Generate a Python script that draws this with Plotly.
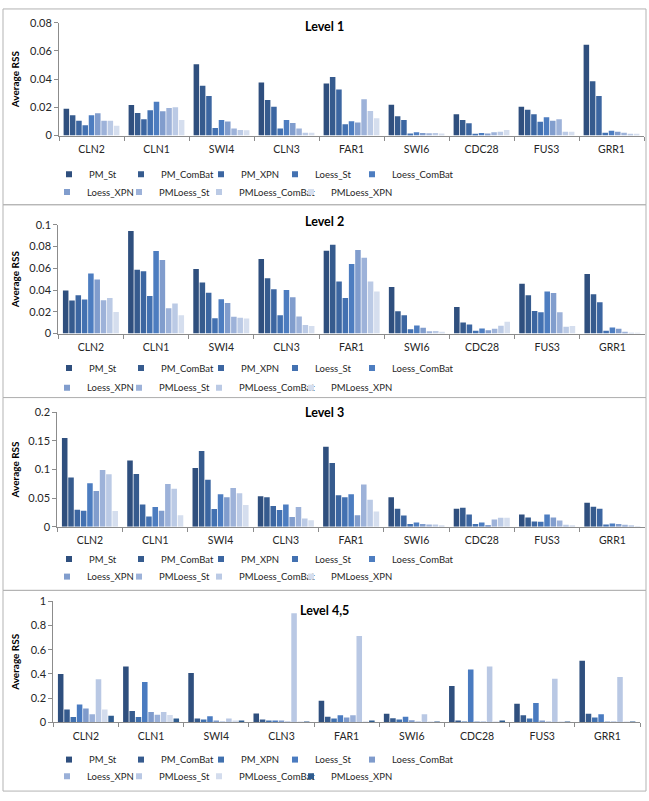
import plotly.graph_objects as go

# ---------------- data ----------------
categories = ["CLN2", "CLN1", "SWI4", "CLN3", "FAR1", "SWI6", "CDC28", "FUS3", "GRR1"]
series = ["PM_St", "PM_ComBat", "PM_XPN", "Loess_St", "Loess_ComBat",
          "Loess_XPN", "PMLoess_St", "PMLoess_ComBat", "PMLoess_XPN"]
level_titles = ["Level 1", "Level 2", "Level 3", "Level 4,5"]

# rows = categories (in order above), columns = series (in order above)
level1 = [
    [0.0190, 0.0144, 0.0105, 0.0074, 0.0144, 0.0158, 0.0105, 0.0105, 0.0070],
    [0.0216, 0.0160, 0.0116, 0.0180, 0.0240, 0.0172, 0.0195, 0.0200, 0.0110],
    [0.0505, 0.0353, 0.0280, 0.0053, 0.0110, 0.0100, 0.0050, 0.0040, 0.0037],
    [0.0377, 0.0253, 0.0205, 0.0050, 0.0110, 0.0090, 0.0050, 0.0020, 0.0020],
    [0.0370, 0.0416, 0.0326, 0.0080, 0.0102, 0.0093, 0.0258, 0.0174, 0.0123],
    [0.0219, 0.0137, 0.0110, 0.0014, 0.0023, 0.0019, 0.0016, 0.0019, 0.0014],
    [0.0151, 0.0110, 0.0088, 0.0010, 0.0019, 0.0014, 0.0023, 0.0028, 0.0040],
    [0.0205, 0.0184, 0.0151, 0.0098, 0.0130, 0.0105, 0.0116, 0.0028, 0.0028],
    [0.0644, 0.0386, 0.0280, 0.0020, 0.0035, 0.0028, 0.0020, 0.0009, 0.0007],
]
level2 = [
    [0.0395, 0.0304, 0.0352, 0.0313, 0.0551, 0.0497, 0.0307, 0.0328, 0.0199],
    [0.0943, 0.0587, 0.0572, 0.0346, 0.0759, 0.0675, 0.0232, 0.0277, 0.0169],
    [0.0593, 0.0470, 0.0376, 0.0142, 0.0316, 0.0280, 0.0154, 0.0145, 0.0139],
    [0.0684, 0.0509, 0.0407, 0.0169, 0.0400, 0.0334, 0.0157, 0.0078, 0.0070],
    [0.0762, 0.0816, 0.0479, 0.0328, 0.0639, 0.0768, 0.0696, 0.0479, 0.0386],
    [0.0428, 0.0205, 0.0169, 0.0039, 0.0075, 0.0054, 0.0021, 0.0024, 0.0018],
    [0.0244, 0.0102, 0.0084, 0.0027, 0.0048, 0.0030, 0.0045, 0.0072, 0.0108],
    [0.0458, 0.0352, 0.0208, 0.0196, 0.0386, 0.0373, 0.0196, 0.0063, 0.0070],
    [0.0548, 0.0361, 0.0289, 0.0027, 0.0057, 0.0045, 0.0018, 0.0006, 0.0003],
]
level3 = [
    [0.1553, 0.0860, 0.0298, 0.0280, 0.0762, 0.0625, 0.0991, 0.0917, 0.0275],
    [0.1158, 0.0923, 0.0390, 0.0178, 0.0344, 0.0280, 0.0745, 0.0665, 0.0200],
    [0.1026, 0.1324, 0.0820, 0.0310, 0.0567, 0.0516, 0.0676, 0.0585, 0.0378],
    [0.0533, 0.0516, 0.0361, 0.0292, 0.0390, 0.0172, 0.0344, 0.0143, 0.0115],
    [0.1400, 0.1112, 0.0550, 0.0516, 0.0567, 0.0200, 0.0739, 0.0470, 0.0264],
    [0.0516, 0.0315, 0.0195, 0.0046, 0.0074, 0.0046, 0.0040, 0.0040, 0.0023],
    [0.0315, 0.0332, 0.0212, 0.0046, 0.0074, 0.0029, 0.0126, 0.0155, 0.0155],
    [0.0212, 0.0160, 0.0092, 0.0086, 0.0212, 0.0160, 0.0109, 0.0034, 0.0023],
    [0.0418, 0.0350, 0.0315, 0.0040, 0.0057, 0.0046, 0.0034, 0.0011, 0.0006],
]
level45 = [
    [0.400, 0.106, 0.043, 0.147, 0.114, 0.065, 0.355, 0.106, 0.054],
    [0.462, 0.092, 0.043, 0.334, 0.084, 0.062, 0.084, 0.060, 0.030],
    [0.408, 0.030, 0.022, 0.049, 0.011, 0.005, 0.030, 0.008, 0.008],
    [0.073, 0.022, 0.014, 0.014, 0.008, 0.003, 0.902, 0.003, 0.003],
    [0.177, 0.046, 0.030, 0.057, 0.038, 0.057, 0.715, 0.005, 0.008],
    [0.071, 0.033, 0.022, 0.046, 0.016, 0.005, 0.065, 0.005, 0.003],
    [0.300, 0.014, 0.005, 0.437, 0.003, 0.003, 0.462, 0.003, 0.008],
    [0.152, 0.057, 0.030, 0.160, 0.008, 0.003, 0.359, 0.003, 0.003],
    [0.510, 0.071, 0.038, 0.065, 0.005, 0.003, 0.375, 0.003, 0.003],
]
levels = [level1, level2, level3, level45]
y_max = [0.08, 0.1, 0.2, 1.0]
y_dtick = [0.02, 0.02, 0.05, 0.2]

# ---------------- styles ----------------
colors_main = ["#2F4F7E", "#365B8E", "#3C66A1", "#4371B1", "#4D7DC0",
               "#819DCD", "#9DB2D9", "#BBCAE5", "#D5DEEE"]
colors_l45 = ["#2F4F7E", "#365B8E", "#4070AE", "#4A7BC0", "#7F9BCC",
              "#9AB0D8", "#B9C8E4", "#D3DCED", "#2F5C8F"]
palettes = [colors_main, colors_main, colors_main, colors_l45]

W, H = 649, 801
FONT = "Lato, 'Open Sans', sans-serif"
TXT = "#262626"
AXC = "#8C8C8C"

# pixel geometry per panel
geo = [
    dict(top=16.0, bottom=130.7, left=59.0, right=644.0, leg=(170, 188), title=20, box=(2, 201)),
    dict(top=221.3, bottom=332.0, left=58.3, right=645.0, leg=(367, 387), title=218, box=(201, 397)),
    dict(top=412.0, bottom=528.3, left=57.3, right=645.0, leg=(561, 579), title=412, box=(397, 593)),
    dict(top=604.3, bottom=727.0, left=53.3, right=640.0, leg=(765, 782), title=613, box=(593, 797)),
]
# legend entry columns (px) for each of the 9 entries: 5 on row 1, 4 on row 2
leg_cols = [76, 148, 228, 302, 379, 74, 146, 226, 318]

def py(p):
    return 1 - p / H

fig = go.Figure()
layout = dict(
    width=W, height=H, margin=dict(l=0, r=0, t=0, b=0),
    paper_bgcolor="white", plot_bgcolor="white",
    barmode="group", bargap=0.13, bargroupgap=0.12,
    font=dict(family=FONT, color=TXT),
    annotations=[], shapes=[],
)

leg_n = 0
for p, (rows, g) in enumerate(zip(levels, geo)):
    ax = "" if p == 0 else str(p + 1)
    xname, yname = "x" + ax, "y" + ax
    pal = palettes[p]
    for j, name in enumerate(series):
        vals = [r[j] for r in rows]
        fig.add_trace(go.Bar(
            x=categories, y=vals, name=name, marker=dict(color=pal[j], line=dict(width=0)),
            xaxis=xname, yaxis=yname, showlegend=False, hoverinfo="x+y+name",
        ))
    for j, name in enumerate(series):
        lid = "legend" if leg_n == 0 else f"legend{leg_n + 1}"
        leg_n += 1
        fig.add_trace(go.Scatter(
            x=[None], y=[None], mode="markers", name=name,
            marker=dict(symbol="square", size=6, color=pal[j]),
            xaxis=xname, yaxis=yname, showlegend=True, legend=lid,
        ))
        row = 0 if j < 5 else 1
        layout[lid] = dict(
            orientation="h", x=(leg_cols[j] - 27) / W, xanchor="left",
            y=py(g["leg"][row]), yanchor="middle", itemsizing="trace",
            font=dict(family=FONT, size=9.5, color=TXT), bgcolor="rgba(0,0,0,0)",
            itemclick=False, itemdoubleclick=False,
        )

    layout["xaxis" + ax] = dict(
        domain=[g["left"] / W, g["right"] / W], anchor=yname,
        showline=True, linecolor=AXC, linewidth=1,
        ticks="outside", tickson="boundaries", ticklen=4, tickcolor=AXC,
        tickfont=dict(family=FONT, size=10.5, color=TXT), ticklabelstandoff=4,
        showgrid=False, zeroline=False, fixedrange=True,
    )
    layout["yaxis" + ax] = dict(
        domain=[py(g["bottom"]), py(g["top"])], anchor=xname,
        range=[0, y_max[p]], dtick=y_dtick[p], tick0=0,
        showline=True, linecolor=AXC, linewidth=1,
        ticks="outside", ticklen=4, tickcolor=AXC,
        tickfont=dict(family=FONT, size=11, color=TXT),
        showgrid=False, zeroline=False, fixedrange=True,
    )
    layout["annotations"].append(dict(
        text=level_titles[p], x=324 / W, y=py(g["title"]), xref="paper", yref="paper",
        xanchor="center", yanchor="middle", showarrow=False,
        font=dict(family=FONT, size=12.5, color="black", weight="bold"),
    ))
    layout["annotations"].append(dict(
        text="Average RSS", x=15 / W, y=py((g["top"] + g["bottom"]) / 2), xref="paper", yref="paper",
        xanchor="center", yanchor="middle", showarrow=False, textangle=-90,
        font=dict(family=FONT, size=10, color="black", weight="bold"),
    ))
    layout["shapes"].append(dict(
        type="rect", xref="paper", yref="paper", x0=3 / W, x1=646 / W,
        y0=py(g["box"][1]), y1=py(g["box"][0]),
        line=dict(color="#B3B3B3", width=1), fillcolor="rgba(0,0,0,0)", layer="below",
    ))

fig.update_layout(**layout)
fig.write_html(
    "out.html",
    config={"displayModeBar": False},
    post_script="document.body.style.margin='0';document.body.style.overflow='hidden';",
)
